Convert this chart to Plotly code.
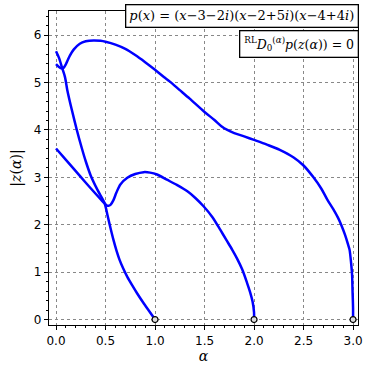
import plotly.graph_objects as go

# |z(alpha)| for the three roots of p
alpha_1 = [0.0, 0.03, 0.055, 0.075, 0.1, 0.12, 0.14, 0.18, 0.24, 0.3, 0.38, 0.45, 0.5, 0.6, 0.7,
           0.8, 0.9, 1.0, 1.1, 1.15, 1.25, 1.35, 1.5, 1.6, 1.67, 1.73, 1.8, 1.9, 2.0, 2.13, 2.26,
           2.4, 2.5, 2.6, 2.68, 2.74, 2.8, 2.85, 2.88, 2.92, 2.95, 2.965, 2.98, 2.99, 2.995, 3.0, 3.0]
modz_1 = [5.39, 5.33, 5.3, 5.31, 5.39, 5.48, 5.57, 5.7, 5.82, 5.87, 5.89, 5.88, 5.86, 5.8, 5.71,
          5.58, 5.43, 5.27, 5.1, 5.02, 4.84, 4.66, 4.38, 4.21, 4.08, 4.0, 3.935, 3.865, 3.79, 3.69, 3.58,
          3.42, 3.25, 3.0, 2.76, 2.53, 2.33, 2.14, 2.0, 1.78, 1.58, 1.47, 1.2, 0.95, 0.6, 0.25, 0.0]

alpha_2 = [0.0, 0.1, 0.245, 0.35, 0.45, 0.49, 0.51, 0.53, 0.55, 0.58, 0.61, 0.65, 0.72, 0.8, 0.885,
           0.95, 1.02, 1.12, 1.22, 1.33, 1.41, 1.49, 1.58, 1.66, 1.72, 1.78, 1.83, 1.88, 1.93, 1.96,
           1.985, 2.0, 2.0]
modz_2 = [3.61, 3.37, 3.02, 2.77, 2.54, 2.45, 2.41, 2.4, 2.42, 2.52, 2.68, 2.85, 2.99, 3.07, 3.11,
          3.1, 3.06, 2.95, 2.84, 2.7, 2.56, 2.39, 2.16, 1.89, 1.68, 1.47, 1.28, 1.06, 0.77, 0.58,
          0.38, 0.15, 0.0]

alpha_3 = [0.0, 0.03, 0.06, 0.09, 0.114, 0.16, 0.21, 0.26, 0.3, 0.35, 0.42, 0.49, 0.52, 0.55, 0.58,
           0.61, 0.64, 0.68, 0.72, 0.77, 0.82, 0.88, 0.94, 1.0]
modz_3 = [5.66, 5.52, 5.32, 5.12, 4.84, 4.42, 4.0, 3.62, 3.34, 3.04, 2.73, 2.46, 2.2, 1.93, 1.68,
          1.46, 1.27, 1.07, 0.9, 0.72, 0.55, 0.36, 0.18, 0.0]

end_alpha = [1.0, 2.0, 3.0]
end_modz = [0.0, 0.0, 0.0]

x_ticks = [0.0, 0.5, 1.0, 1.5, 2.0, 2.5, 3.0]
y_ticks = [0, 1, 2, 3, 4, 5, 6]

fig = go.Figure()
for xs, ys in [(alpha_1, modz_1), (alpha_2, modz_2), (alpha_3, modz_3)]:
    fig.add_trace(go.Scatter(x=xs, y=ys, mode='lines', line=dict(color='#0000ff', width=2.5, shape='spline', smoothing=0.8),
                             showlegend=False, hoverinfo='skip'))

fig.add_trace(go.Scatter(x=end_alpha, y=end_modz, mode='markers', showlegend=False, cliponaxis=False,
                         hoverinfo='skip',
                         marker=dict(size=6, color='#dddddd', line=dict(color='black', width=1.2))))

axis_common = dict(showline=True, linecolor='black', linewidth=1.3, mirror=True, automargin=False,
                   ticks='outside', ticklen=4, tickcolor='black', zeroline=False,
                   showgrid=True, gridcolor='#888888', griddash='dot', gridwidth=1,
                   tickfont=dict(family='DejaVu Sans', size=12, color='black'))

fig.update_xaxes(range=[-0.071, 3.05], tickvals=x_ticks, ticktext=['%.1f' % v for v in x_ticks],
                 minor=dict(ticks='outside', ticklen=2, dtick=0.1, tick0=0, tickcolor='black', showgrid=False),
                 title=dict(text='<i>α</i>', font=dict(family='DejaVu Serif', size=14, color='black'), standoff=4),
                 **axis_common)
fig.update_yaxes(range=[-0.115, 6.51], tickvals=y_ticks,
                 minor=dict(ticks='outside', ticklen=2, dtick=0.2, tick0=0, tickcolor='black', showgrid=False),
                 title=dict(text='|<i>z</i>(<i>α</i>)|', font=dict(family='DejaVu Serif', size=14, color='black'), standoff=8),
                 **axis_common)

fig.add_annotation(xref='paper', yref='paper', x=1.003, y=1.022, xanchor='right', yanchor='top',
                   text='<i>p</i>(<i>x</i>) = (<i>x</i>−3−2<i>i</i>)(<i>x</i>−2+5<i>i</i>)(<i>x</i>−4+4<i>i</i>)',
                   showarrow=False, bgcolor='white', bordercolor='black', borderwidth=1.3, borderpad=3,
                   font=dict(family='DejaVu Serif', size=13, color='black'))
fig.add_annotation(xref='paper', yref='paper', x=1.003, y=0.939, xanchor='right', yanchor='top',
                   text='<sup>RL</sup><i>D</i><sub>0</sub><sup>(<i>α</i>)</sup><i>p</i>(<i>z</i>(<i>α</i>)) = 0',
                   showarrow=False, bgcolor='white', bordercolor='black', borderwidth=1.3, borderpad=4,
                   font=dict(family='DejaVu Serif', size=12.5, color='black'))

fig.update_layout(width=374, height=379, margin=dict(l=49, r=16, t=11, b=54),
                  plot_bgcolor='white', paper_bgcolor='white', hovermode=False)

# the page body has an 8px default margin; drop it so the figure sits at the window corner
fig.write_html("out.html", config={'displayModeBar': False},
               post_script="document.body.style.margin='0';")
